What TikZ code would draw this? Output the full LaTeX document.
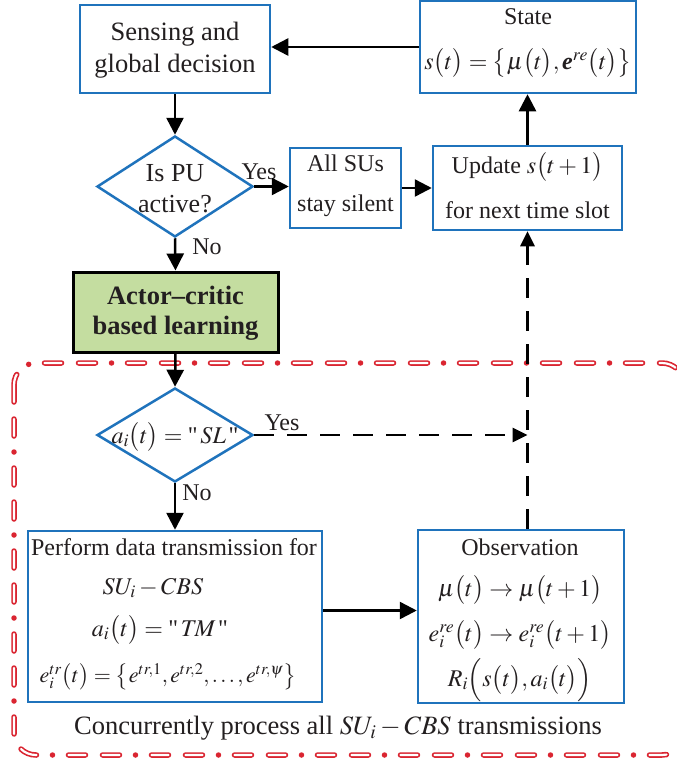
\documentclass[tikz,border=0pt]{standalone}
\usepackage{amsmath}
\usepackage{mathptmx}
\usepackage[no-math]{fontspec}
\setmainfont{Liberation Serif}
\newfontfamily\straightq[Ligatures=TeXOff]{Liberation Serif}
\newcommand{\sq}{\mbox{\straightq"}}
\usetikzlibrary{arrows.meta,shapes.geometric}

\definecolor{ink}{RGB}{35,31,32}
\definecolor{boxblue}{RGB}{31,115,188}
\definecolor{framered}{RGB}{218,37,49}
\definecolor{learngreen}{RGB}{196,221,160}

\tikzset{
  box/.style={draw=boxblue, line width=2.5pt, rectangle, inner sep=0pt, fill=white},
  dia/.style={draw=boxblue, line width=2.5pt, diamond, inner sep=0pt, fill=white},
  txt/.style={text=ink, inner sep=0pt, align=center, font=\fontsize{24}{29}\selectfont},
  lbl/.style={text=ink, inner sep=0pt, font=\fontsize{24}{29}\selectfont},
  arr/.style={draw=black, line width=2.5pt, -{Triangle[length=17pt,width=17pt]}},
  dasharr/.style={draw=black, line width=2.8pt, dash pattern=on 20pt off 13pt,
                  -{Triangle[length=15pt,width=14pt]}},
}

\begin{document}
\begin{tikzpicture}[x=1pt,y=-1pt]
\useasboundingbox (0,0) rectangle (677,766);

% dash-dot frame round the per-link processing, drawn as hollow dashes
\draw[framered, line width=5.5pt, line cap=round, rounded corners=22pt,
      dash pattern=on 17pt off 17pt on 17pt off 16pt on 0pt off 16pt]
  (14,363) rectangle (684,755);
\draw[white, line width=2.2pt, line cap=round, rounded corners=22pt,
      dash pattern=on 17pt off 17pt on 17pt off 32pt]
  (14,363) rectangle (684,755);

% boxes and decisions
\node[box, minimum width=190pt, minimum height=88pt] (sense) at (175,49) {};
\node[box, minimum width=216pt, minimum height=92pt] (state) at (528,47) {};
\node[dia, minimum width=156pt, minimum height=101pt] (d1) at (175,186.5) {};
\node[box, minimum width=111pt, minimum height=80pt] (allsu) at (345.5,188) {};
\node[box, minimum width=189pt, minimum height=84pt] (upd) at (527.5,188) {};
\node[draw=black, line width=3pt, fill=learngreen, inner sep=0pt,
      minimum width=205pt, minimum height=80pt] (actor) at (175.5,312) {};
\node[dia, minimum width=156pt, minimum height=94pt] (d2) at (175,435) {};
\node[box, minimum width=294pt, minimum height=171pt] (perf) at (175,616.5) {};
\node[box, minimum width=206pt, minimum height=173pt] (obs) at (521,616.5) {};

% texts
\node[txt, font=\fontsize{26.5}{32}\selectfont] (senset) at (175,50) {Sensing and\\global decision};
\node[txt] (statet1) at (528,17) {State};
\node[txt] (statet2) at (528,63)
  {$s\bigl(t\bigr)=\bigl\{\mu\bigl(t\bigr),\mbox{\bfseries\itshape e}^{re}\bigl(t\bigr)\bigr\}$};
\node[txt, font=\fontsize{26}{31}\selectfont] (d1t) at (175,189) {Is PU\\active?};
\node[txt, font=\fontsize{24}{40}\selectfont] (allsut) at (345.5,186) {All SUs\\stay silent};
\node[txt] (updt1) at (527.5,167) {Update $s\bigl(t+1\bigr)$};
\node[txt] (updt2) at (527.5,210) {for next time slot};
\node[txt, font=\fontsize{26.5}{30}\bfseries] (actort) at (175.5,313) {Actor--critic\\based learning};
\node[txt] (d2t) at (175,437) {$a_i\bigl(t\bigr)=\sq\,SL\,\sq$};
\node[txt] (perft1) at (174,547) {Perform data transmission for};
\node[txt] (perft2) at (153,588) {$SU_i-CBS$};
\node[txt] (perft3) at (160,630) {$a_i\bigl(t\bigr)=\sq\,T\!M\,\sq$};
\node[txt, font=\fontsize{22}{27}\selectfont] (perft4) at (168,677)
  {$e_i^{tr}\bigl(t\bigr)=\bigl\{e^{tr,1},e^{tr,2},\ldots,e^{tr,\psi}\bigr\}$};
\node[txt] (obst1) at (520,547) {Observation};
\node[txt] (obst2) at (520,590) {$\mu\bigl(t\bigr)\rightarrow\mu\bigl(t+1\bigr)$};
\node[txt] (obst3) at (520,635) {$e_i^{re}\bigl(t\bigr)\rightarrow e_i^{re}\bigl(t+1\bigr)$};
\node[txt] (obst4) at (520,680) {$R_i\Bigl(s\bigl(t\bigr),a_i\bigl(t\bigr)\Bigr)$};
\node[txt, font=\fontsize{26.5}{31}\selectfont] (allt) at (338,728)
  {Concurrently process all $SU_i-CBS$ transmissions};

% branch labels
\node[lbl] (yes1) at (259,172) {Yes};
\node[lbl] (no1) at (207,247) {No};
\node[lbl] (yes2) at (282,423) {Yes};
\node[lbl] (no2) at (197,493) {No};

% connectors
\draw[arr] (state.west) -- (state.west -| sense.east);
\draw[arr] (sense.south) -- (d1.north);
\draw[arr] (d1.east) -- (d1.east -| allsu.west);
\draw[arr] (allsu.east) -- (upd.west);
\draw[arr] (upd.north) -- (upd.north |- state.south);
\draw[arr] (d1.south) -- (actor.north);
\draw[arr] (actor.south) -- (d2.north);
\draw[arr] (d2.south) -- (perf.north);
\draw[arr] ([yshift=6pt]perf.east) -- ([yshift=6pt]obs.west);
\coordinate (join) at (upd.south |- d2.east);
\draw[dasharr] (d2.east) -- (join);
\draw[dasharr] (upd.south |- obs.north) -- (upd.south);
\end{tikzpicture}
\end{document}
